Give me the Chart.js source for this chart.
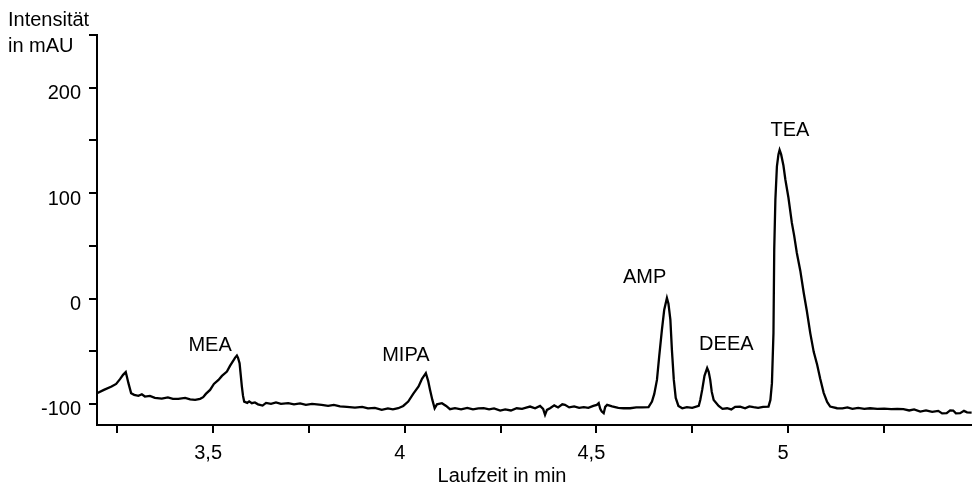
<!DOCTYPE html>
<html>
<head>
<meta charset="utf-8">
<script src="https://cdn.jsdelivr.net/npm/chart.js@4/dist/chart.umd.min.js"></script>
<style>
  html,body{margin:0;padding:0;background:#fff;}
  #wrap{width:972px;height:488px;}
</style>
</head>
<body>
<div id="wrap"><canvas id="c" width="972" height="488"></canvas></div>
<script>
// Chromatogramm: Laufzeit (min) gegen Intensität (mAU)
const times=[3.197,3.215,3.235,3.247,3.257,3.265,3.272,3.275,3.279,3.286,3.294,3.305,3.314,3.322,3.335,3.348,3.366,3.382,3.395,3.409,
  3.427,3.440,3.453,3.466,3.474,3.481,3.492,3.502,3.514,3.523,3.536,3.544,3.553,3.557,3.562,3.565,3.569,3.572,3.575,3.578,
  3.581,3.589,3.594,3.601,3.609,3.617,3.629,3.638,3.651,3.664,3.677,3.696,3.711,3.727,3.742,3.758,3.783,3.800,3.815,3.831,
  3.849,3.870,3.889,3.904,3.922,3.940,3.956,3.969,3.983,3.996,4.009,4.022,4.036,4.045,4.055,4.061,4.066,4.072,4.078,4.084,
  4.097,4.108,4.118,4.131,4.147,4.163,4.178,4.192,4.206,4.220,4.233,4.249,4.262,4.277,4.292,4.306,4.319,4.327,4.340,4.353,
  4.361,4.366,4.371,4.379,4.390,4.400,4.411,4.418,4.429,4.442,4.455,4.467,4.479,4.492,4.501,4.506,4.510,4.514,4.519,4.523,
  4.528,4.541,4.557,4.571,4.588,4.604,4.619,4.636,4.645,4.651,4.658,4.664,4.671,4.677,4.684,4.688,4.693,4.697,4.702,4.707,
  4.714,4.724,4.736,4.750,4.767,4.771,4.776,4.782,4.789,4.793,4.797,4.801,4.806,4.819,4.829,4.841,4.852,4.862,4.875,4.888,
  4.899,4.910,4.922,4.935,4.949,4.954,4.958,4.962,4.964,4.967,4.971,4.975,4.978,4.982,4.988,4.993,5.001,5.010,5.016,5.023,
  5.032,5.041,5.049,5.058,5.067,5.076,5.084,5.093,5.102,5.110,5.128,5.142,5.155,5.168,5.183,5.199,5.214,5.233,5.251,5.269,
  5.285,5.301,5.316,5.329,5.345,5.360,5.376,5.392,5.402,5.414,5.423,5.431,5.438,5.449,5.459,5.467,5.479];
const intensity=[-89.8,-86.7,-83.5,-81.0,-76.5,-72.4,-69.8,-74.3,-80.3,-89.8,-91.4,-92.4,-90.9,-93.0,-92.4,-94.3,-94.9,-93.8,-95.2,-95.2,
  -94.3,-95.7,-96.2,-95.2,-93.6,-90.5,-86.7,-81.0,-77.2,-73.4,-69.3,-63.9,-58.8,-56.3,-54.1,-56.3,-61.3,-72.4,-83.5,-92.4,
  -97.8,-99.0,-97.6,-99.3,-98.6,-100.4,-101.6,-99.0,-100.0,-98.6,-100.0,-99.3,-100.4,-99.5,-100.9,-100.0,-100.9,-101.9,-100.9,-102.3,
  -102.8,-103.5,-102.8,-104.2,-103.8,-105.7,-104.2,-105.2,-104.1,-101.9,-97.8,-90.5,-83.5,-76.2,-70.8,-78.1,-86.7,-96.2,-104.1,-100.4,
  -99.3,-101.9,-105.0,-104.1,-105.2,-103.8,-105.2,-104.2,-104.1,-105.2,-104.2,-106.3,-105.2,-106.2,-104.1,-104.7,-103.3,-102.5,-104.2,-101.9,
  -104.7,-110.4,-105.7,-104.1,-101.4,-103.3,-100.4,-100.9,-103.3,-102.3,-103.8,-103.1,-103.8,-101.9,-100.9,-99.3,-104.7,-107.3,-108.8,-102.8,
  -100.9,-102.3,-103.8,-104.1,-104.1,-103.3,-103.3,-103.1,-97.8,-90.5,-77.2,-54.4,-29.6,-10.6,0.5,-4.9,-20.1,-48.7,-77.2,-94.3,
  -101.9,-104.2,-103.1,-103.8,-101.9,-96.2,-86.7,-73.4,-66.0,-69.6,-77.2,-88.6,-96.2,-101.9,-104.7,-104.1,-105.2,-102.8,-102.5,-104.2,
  -102.3,-103.1,-103.8,-102.8,-102.5,-96.2,-80.3,-32.8,46.4,93.9,125.5,136.7,140.9,136.7,126.2,112.9,95.8,71.7,59.7,43.2,
  26.4,5.2,-11.6,-32.8,-50.6,-62.9,-76.2,-89.5,-98.1,-102.5,-104.1,-104.2,-103.3,-104.7,-103.8,-104.7,-104.1,-104.7,-104.5,-105.0,
  -104.7,-105.0,-106.2,-105.2,-107.3,-106.2,-107.6,-106.6,-109.0,-108.8,-106.2,-106.3,-109.0,-108.8,-106.6,-108.0,-108.2];

const xTicks=[3.25,3.5,3.75,4,4.25,4.5,4.75,5,5.25];
const xLabeled=[3.5,4,4.5,5];
const yTicks=[-100,-50,0,50,100,150,200,250];
const yLabeled=[-100,0,100,200];

// Peak-Beschriftungen (Position in Datenkoordinaten)
const peakNames=['MEA','MIPA','AMP','DEEA','TEA'];
const peakTimes=[3.492,4.003,4.626,4.839,5.005];
const peakLabelY=[-49.6,-59.1,15.0,-48.7,153.8];

const FONT='"Liberation Sans", Arial, sans-serif';

const textPlugin={
  id:'texts',
  afterDraw(chart){
    const ctx=chart.ctx, xs=chart.scales.x, ys=chart.scales.y;
    ctx.save();
    ctx.fillStyle='#000'; ctx.font='20px '+FONT; ctx.textBaseline='alphabetic';
    ctx.textAlign='left';
    ctx.fillText('Intensität',8,26);
    ctx.fillText('in mAU',8,52);
    ctx.textAlign='center';
    ctx.fillText('Laufzeit in min',502,482);
    peakNames.forEach((n,i)=>{
      ctx.fillText(n,xs.getPixelForValue(peakTimes[i]),ys.getPixelForValue(peakLabelY[i]));
    });
    ctx.restore();
  }
};

new Chart(document.getElementById('c'),{
  type:'line',
  data:{datasets:[{
    data:times.map((t,i)=>({x:t,y:intensity[i]})),
    borderColor:'#000',borderWidth:2.3,pointRadius:0,tension:0,fill:false
  }]},
  options:{
    responsive:false,animation:false,
    layout:{padding:{top:35,right:0,left:0,bottom:0}},
    plugins:{legend:{display:false},tooltip:{enabled:false}},
    scales:{
      x:{
        type:'linear',min:3.197,max:5.48,
        afterBuildTicks:s=>{s.ticks=xTicks.map(v=>({value:v}));},
        afterFit:s=>{s.height=63;},
        border:{display:true,color:'#000',width:2},
        grid:{drawOnChartArea:false,drawTicks:true,tickLength:8,tickColor:'#000',lineWidth:2},
        ticks:{autoSkip:false,maxRotation:0,padding:8,labelOffset:-5,color:'#000',font:{family:FONT,size:20},
          callback:v=>xLabeled.includes(v)?String(v).replace('.',','):''}
      },
      y:{
        min:-120,max:250,
        afterBuildTicks:s=>{s.ticks=yTicks.map(v=>({value:v}));},
        afterFit:s=>{s.width=97;},
        border:{display:true,color:'#000',width:2},
        grid:{drawOnChartArea:false,drawTicks:true,tickLength:8,tickColor:'#000',lineWidth:2},
        ticks:{autoSkip:false,padding:8,labelOffset:6,color:'#000',font:{family:FONT,size:20},
          callback:v=>yLabeled.includes(v)?String(v):''}
      }
    }
  },
  plugins:[textPlugin]
});
</script>
</body>
</html>
